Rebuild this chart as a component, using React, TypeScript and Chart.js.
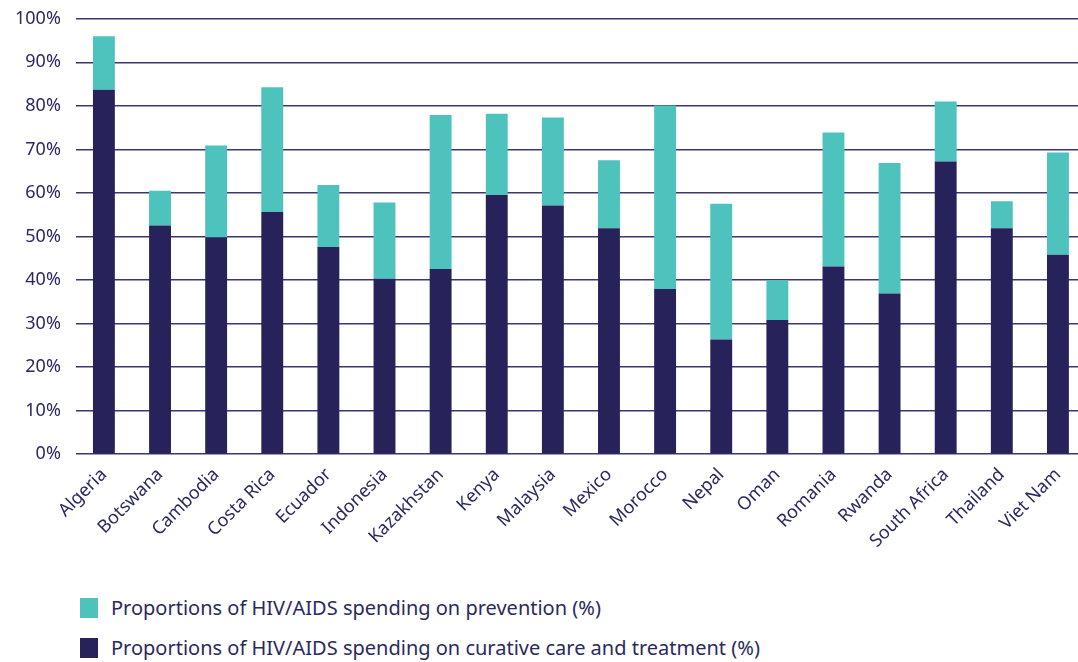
import React, { useEffect, useRef } from "react";
import { Chart, registerables } from "chart.js";

Chart.register(...registerables);

const countries = [
  "Algeria", "Botswana", "Cambodia", "Costa Rica", "Ecuador", "Indonesia",
  "Kazakhstan", "Kenya", "Malaysia", "Mexico", "Morocco", "Nepal", "Oman",
  "Romania", "Rwanda", "South Africa", "Thailand", "Viet Nam",
];

const curativeCare = [
  83.7, 52.5, 49.8, 55.6, 47.6, 40.3, 42.5, 59.5, 57.1, 51.9, 37.9, 26.3, 30.8,
  43.1, 36.9, 67.2, 51.9, 45.8,
];

const prevention = [
  12.3, 8.0, 21.1, 28.7, 14.2, 17.5, 35.4, 18.7, 20.2, 15.6, 42.2, 31.2, 9.2,
  30.8, 30.0, 13.8, 6.2, 23.5,
];

const yTicks = [0, 10, 20, 30, 40, 50, 60, 70, 80, 90, 100];

const legendLabels = [
  "Proportions of HIV/AIDS spending on prevention (%)",
  "Proportions of HIV/AIDS spending on curative care and treatment (%)",
];

const TEAL = "#4ec2bd";
const NAVY = "#27235a";
const TEXT = "#2b2960";
const FONT = "'Noto Sans', 'Open Sans', sans-serif";

export default function App() {
  const ref = useRef<HTMLCanvasElement | null>(null);

  useEffect(() => {
    if (!ref.current) return;
    const chart = new Chart(ref.current, {
      type: "bar",
      data: {
        labels: countries,
        datasets: [
          {
            label: legendLabels[1],
            data: curativeCare,
            backgroundColor: NAVY,
            barPercentage: 0.39,
            categoryPercentage: 1,
          },
          {
            label: legendLabels[0],
            data: prevention,
            backgroundColor: TEAL,
            barPercentage: 0.39,
            categoryPercentage: 1,
          },
        ],
      },
      options: {
        animation: false,
        responsive: true,
        maintainAspectRatio: false,
        layout: { padding: { top: 0, right: 0, left: 0, bottom: 0 } },
        plugins: {
          legend: { display: false },
          tooltip: { enabled: false },
        },
        scales: {
          x: {
            stacked: true,
            grid: { display: false, drawTicks: false },
            border: { display: false },
            ticks: {
              color: TEXT,
              font: { family: FONT, size: 18 },
              maxRotation: 45,
              minRotation: 45,
              padding: 10,
              autoSkip: false,
            },
          },
          y: {
            stacked: true,
            min: 0,
            max: 100,
            afterBuildTicks: (axis: any) => {
              axis.ticks = yTicks.map((v) => ({ value: v }));
            },
            grid: { color: "#3b3870", lineWidth: 1.4, drawTicks: false },
            border: { display: false },
            ticks: {
              color: TEXT,
              font: { family: FONT, size: 18 },
              padding: 15,
              callback: (v: any) => `${v}%`,
            },
          },
        },
      },
    });
    return () => chart.destroy();
  }, []);

  const colors = [TEAL, NAVY];

  return (
    <div
      style={{
        position: "absolute",
        left: 0,
        top: 0,
        width: 1078,
        height: 662,
        overflow: "hidden",
        background: "#fff",
      }}
    >
      <div style={{ position: "absolute", left: 0, top: -7, width: 1086, height: 569 }}>
        <canvas ref={ref} />
      </div>
      {legendLabels.map((l, i) => (
        <div
          key={l}
          style={{
            position: "absolute",
            left: 80,
            top: 594 + i * 40,
            display: "flex",
            alignItems: "center",
            fontFamily: FONT,
            fontSize: 20,
            color: TEXT,
          }}
        >
          <span
            style={{
              display: "inline-block",
              width: 18,
              height: 20,
              background: colors[i],
              marginRight: 13,
            }}
          />
          {l}
        </div>
      ))}
    </div>
  );
}
